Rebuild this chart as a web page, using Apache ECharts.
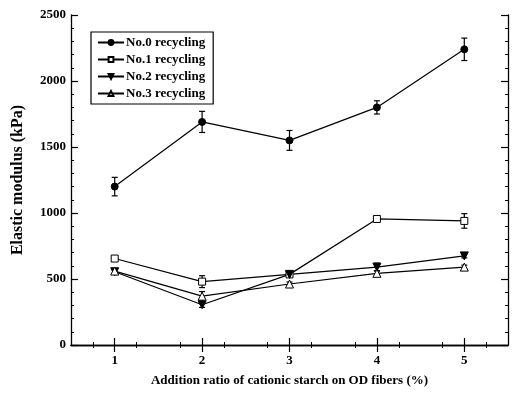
<!DOCTYPE html>
<html>
<head>
<meta charset="utf-8">
<script src="https://cdn.jsdelivr.net/npm/echarts@6/dist/echarts.min.js"></script>
<style>
  html, body { margin: 0; padding: 0; background: #fff; }
  #chart { width: 515px; height: 394px; }
</style>
</head>
<body>
<div id="chart"></div>
<script>
// addition ratio of cationic starch (%)
const ratios = [1, 2, 3, 4, 5]
const seriesNames = ['No.0 recycling', 'No.1 recycling', 'No.2 recycling', 'No.3 recycling']
// elastic modulus (kPa)
const no0 = [1200, 1690, 1550, 1800, 2240]
const no1 = [655, 480, 535, 955, 940]
const no2 = [555, 305, 535, 590, 675]
const no3 = [560, 370, 462, 543, 590]
// error bar half widths (kPa)
const no0Err = [70, 80, 75, 50, 85]
const no1Err = [20, 45, 15, 25, 55]
const no2Err = [15, 20, 15, 30, 15]
const no3Err = [15, 35, 15, 20, 15]
const yTicks = [0, 500, 1000, 1500, 2000, 2500]

const font = 'Liberation Serif'
const values = [no0, no1, no2, no3]
const errs = [no0Err, no1Err, no2Err, no3Err]

// 标记样式
const symbols = [
  { symbol: 'circle', symbolSize: 7, rotate: 0, fill: '#000' },
  { symbol: 'rect', symbolSize: 7, rotate: 0, fill: '#fff' },
  { symbol: 'triangle', symbolSize: 8, rotate: 180, fill: '#000' },
  { symbol: 'triangle', symbolSize: 8, rotate: 0, fill: '#fff' }
]

const chart = echarts.init(document.getElementById('chart'), null, { renderer: 'canvas' })

const frameLine = { show: true, lineStyle: { color: '#000', width: 1.3 } }

const lineSeries = values.map((vals, i) => ({
  name: seriesNames[i],
  type: 'line',
  xAxisIndex: 0,
  yAxisIndex: 0,
  data: ratios.map((r, j) => [r, vals[j]]),
  symbol: symbols[i].symbol,
  symbolSize: symbols[i].symbolSize,
  symbolRotate: symbols[i].rotate,
  showSymbol: true,
  z: 5,
  lineStyle: { color: '#000', width: 1.2 },
  itemStyle: { color: symbols[i].fill, borderColor: '#000', borderWidth: 1 }
}))

// 误差棒
const errSeries = values.map((vals, i) => ({
  type: 'custom',
  xAxisIndex: 0,
  yAxisIndex: 0,
  z: 4,
  silent: true,
  data: ratios.map((r, j) => [r, vals[j], errs[i][j]]),
  renderItem: (params, api) => {
    const x = api.value(0)
    const y = api.value(1)
    const e = api.value(2)
    const top = api.coord([x, y + e])
    const bot = api.coord([x, y - e])
    const w = 3
    const style = { stroke: '#000', lineWidth: 1.2 }
    return {
      type: 'group',
      children: [
        { type: 'line', shape: { x1: top[0], y1: top[1], x2: bot[0], y2: bot[1] }, style },
        { type: 'line', shape: { x1: top[0] - w, y1: top[1], x2: top[0] + w, y2: top[1] }, style },
        { type: 'line', shape: { x1: bot[0] - w, y1: bot[1], x2: bot[0] + w, y2: bot[1] }, style }
      ]
    }
  }
}))

const option = {
  backgroundColor: '#fff',
  animation: false,
  textStyle: { fontFamily: font, color: '#000' },
  grid: { left: 71, right: 7, top: 15, bottom: 49 },
  legend: {
    orient: 'vertical',
    left: 91,
    top: 32,
    padding: [4, 8, 4, 6],
    itemGap: 4,
    itemWidth: 26,
    itemHeight: 6,
    borderColor: '#000',
    borderWidth: 1.2,
    data: seriesNames,
    textStyle: { fontFamily: font, fontWeight: 'bold', fontSize: 13, color: '#000', padding: [0, 0, 0, -3] }
  },
  xAxis: [
    {
      type: 'value',
      min: 0.5,
      max: 5.5,
      interval: 0.5,
      position: 'bottom',
      name: 'Addition ratio of cationic starch on OD fibers (%)',
      nameLocation: 'middle',
      nameGap: 29,
      nameTextStyle: { fontFamily: font, fontWeight: 'bold', fontSize: 13, color: '#000' },
      axisLine: frameLine,
      axisTick: { show: true, inside: true, length: 7, customValues: ratios, lineStyle: { color: '#000', width: 1.2 } },
      axisLabel: { customValues: ratios, fontFamily: font, fontWeight: 'bold', fontSize: 13, color: '#000', margin: 9 },
      minorTick: { show: true, splitNumber: 2, length: 3, lineStyle: { color: '#000' } },
      splitLine: { show: false }
    },
    {
      type: 'value',
      min: 0.5,
      max: 5.5,
      interval: 0.5,
      position: 'top',
      axisLine: frameLine,
      axisTick: { show: true, inside: true, length: 7, customValues: ratios, lineStyle: { color: '#000', width: 1.2 } },
      axisLabel: { show: false },
      minorTick: { show: true, splitNumber: 2, length: 3, lineStyle: { color: '#000' } },
      splitLine: { show: false }
    }
  ],
  yAxis: [
    {
      type: 'value',
      min: 0,
      max: 2500,
      interval: 500,
      position: 'left',
      name: 'Elastic modulus (kPa)',
      nameLocation: 'middle',
      nameGap: 45,
      nameTextStyle: { fontFamily: font, fontWeight: 'bold', fontSize: 16, color: '#000' },
      axisLine: frameLine,
      axisTick: { show: true, inside: true, length: 7, lineStyle: { color: '#000', width: 1.2 } },
      axisLabel: { fontFamily: font, fontWeight: 'bold', fontSize: 13, color: '#000', margin: 5,
        customValues: yTicks, formatter: (v) => String(v) },
      minorTick: { show: true, splitNumber: 5, length: 3, lineStyle: { color: '#000' } },
      splitLine: { show: false }
    },
    {
      type: 'value',
      min: 0,
      max: 2500,
      interval: 500,
      position: 'right',
      axisLine: frameLine,
      axisTick: { show: true, inside: true, length: 7, lineStyle: { color: '#000', width: 1.2 } },
      axisLabel: { show: false },
      minorTick: { show: true, splitNumber: 5, length: 3, lineStyle: { color: '#000' } },
      splitLine: { show: false }
    }
  ],
  series: [...errSeries, ...lineSeries]
}

chart.setOption(option)
</script>
</body>
</html>
